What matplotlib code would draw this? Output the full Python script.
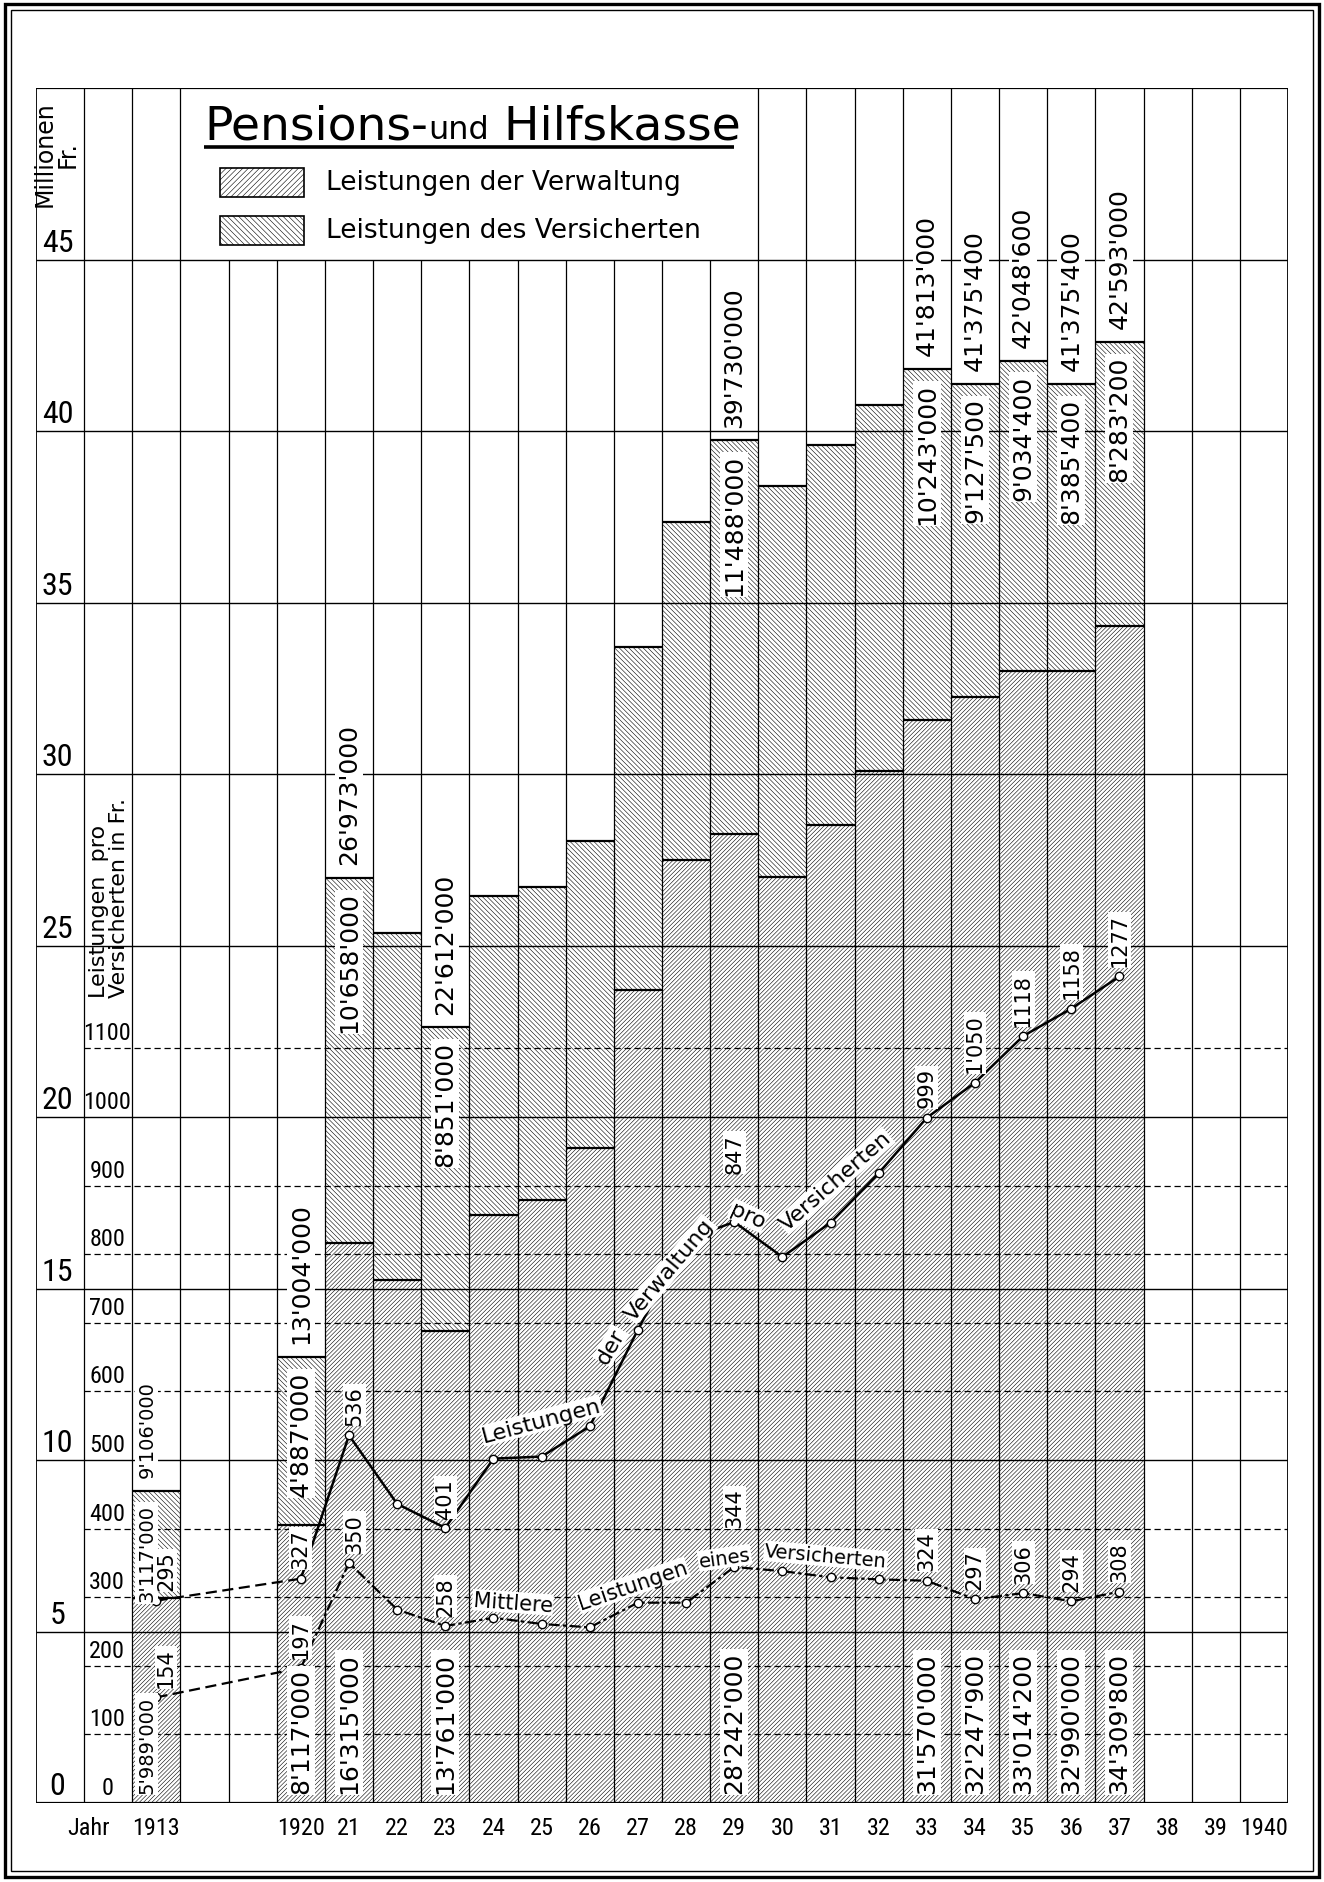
import numpy as np
import matplotlib
matplotlib.use("Agg")
import matplotlib.pyplot as plt
from matplotlib import font_manager
from matplotlib.patches import Rectangle

# Leistungen in Mio. Fr. (unten: Verwaltung, oben: Versicherte)
jahre = [1913, 1920, 1921, 1922, 1923, 1924, 1925, 1926, 1927, 1928,
         1929, 1930, 1931, 1932, 1933, 1934, 1935, 1936, 1937]
verwaltung = [5.989, 8.117, 16.315, 15.24, 13.761, 17.13, 17.58, 19.10, 23.70, 27.50,
              28.242, 27.00, 28.50, 30.10, 31.570, 32.2479, 33.0142, 32.990, 34.3098]
versicherte = [3.117, 4.887, 10.658, 10.11, 8.851, 9.32, 9.12, 8.95, 10.00, 9.85,
               11.488, 11.40, 11.10, 10.65, 10.243, 9.1275, 9.0344, 8.3854, 8.2832]
beschriftet = [1913, 1920, 1921, 1923, 1929, 1933, 1934, 1935, 1936, 1937]

# Leistungen pro Versicherten in Fr.
pro_verwaltung = [295, 327, 536, 436, 401, 502, 505, 549, 690, 821,
                  847, 796, 846, 918, 999, 1050, 1118, 1158, 1205]
pro_verwaltung_text = ["295", "327", "536", "", "401", "", "", "", "", "",
                       "847", "", "", "", "999", "1'050", "1118", "1158", "1277"]
mittlere = [154, 197, 350, 282, 258, 270, 261, 256, 292, 292,
            344, 338, 329, 326, 324, 297, 306, 294, 308]
mittlere_text = ["154", "197", "350", "", "258", "", "", "", "", "",
                 "344", "", "", "", "324", "297", "306", "294", "308"]

achse_mio = [0, 5, 10, 15, 20, 25, 30, 35, 40, 45]
achse_fr = [0, 100, 200, 300, 400, 500, 600, 700, 800, 900, 1000, 1100]
jahr_text = ["1913", "", "", "1920", "21", "22", "23", "24", "25", "26", "27", "28", "29",
             "30", "31", "32", "33", "34", "35", "36", "37", "38", "39", "1940"]


def fr(v):
    return "{:,}".format(int(round(v * 1e4)) * 100).replace(",", "'")


def finde_schmal():
    fonts = font_manager.fontManager.ttflist
    namen = {f.name for f in fonts}
    for n in ("Liberation Sans Narrow", "Roboto Condensed", "Open Sans Condensed",
              "Noto Sans Condensed", "DejaVu Sans Condensed"):
        if n in namen:
            return dict(family=n)
    for fam in ("Noto Sans", "Roboto", "DejaVu Sans", "Open Sans"):
        for st in ("condensed", "semi-condensed", "extra-condensed"):
            if any(f.name == fam and str(f.stretch) == st for f in fonts):
                return dict(family=fam, stretch=st)
    return dict(family="DejaVu Sans")


plt.rcParams["hatch.linewidth"] = 0.4
plt.rcParams["hatch.color"] = "black"

W, H = 1324, 1883
fig = plt.figure(figsize=(W / 100, H / 100), dpi=100)
renderer = fig.canvas.get_renderer()

# schmale Schrift fuer die Achsenzahlen, Groesse nach Breite waehlen
schmal = finde_schmal()
probe = fig.text(0, 0, "1100", fontsize=10, **schmal)
b1100 = probe.get_window_extent(renderer).width
probe.remove()
gr2 = min(20, 10 * 47 / b1100)
gr1 = min(23, 10 * 64 / b1100)

ax = fig.add_axes([36 / W, 79 / H, 1252 / W, 1715 / H])
ax.set_xlim(0, 26)
ax.set_ylim(0, 50)
ax.axis("off")
ax2 = ax.twinx()
ax2.set_ylim(0, 2500)
ax2.axis("off")

x = np.array([2 if j == 1913 else 5 + j - 1920 for j in jahre]) + 0.5
total = np.add(verwaltung, versicherte)

# Saeulen
ax.bar(x, verwaltung, width=1.0, color="white", edgecolor="black", linewidth=0,
       hatch="/" * 8, zorder=1)
ax.bar(x, versicherte, bottom=verwaltung, width=1.0, color="white", edgecolor="black",
       linewidth=0, hatch="\\" * 7, zorder=1)
ax.hlines(total, x - 0.5, x + 0.5, colors="black", lw=1.6, zorder=3)
ax.hlines(verwaltung, x - 0.5, x + 0.5, colors="black", lw=1.6, zorder=3)

# Raster
ax.vlines(np.arange(1, 26), 0, 45, colors="black", lw=0.9, zorder=2)
ax.vlines([0, 26], 0, 50, colors="black", lw=1.3, zorder=2)
ax.vlines([1, 2, 3] + list(range(15, 26)), 45, 50, colors="black", lw=0.9, zorder=2)
ax.hlines(np.arange(5, 46, 5), 0, 26, colors="black", lw=1.0, zorder=2)
ax.hlines([0, 50], 0, 26, colors="black", lw=1.6, zorder=2)
gestrichelt = [v for v in achse_fr if v % 500 != 0]
ax2.hlines(gestrichelt, 1, 26, colors="black", lw=0.9, linestyles=(0, (5, 3)), zorder=1)

# Achsenbeschriftung
for m in achse_mio:
    ax.text(0.45, m + 0.25, str(m), ha="center", va="baseline", fontsize=gr1, **schmal)
for v in achse_fr:
    ax2.text(1.48, v + 13, str(v), ha="center", va="baseline", fontsize=gr2, zorder=6, **schmal)
for i, t in enumerate(jahr_text):
    if t:
        ax.text(i + 2.5, -0.7, t, ha="center", va="center", fontsize=gr2, **schmal)
ax.text(1.1, -0.7, "Jahr", ha="center", va="center", fontsize=gr2, **schmal)
ax.text(0.42, 48.1, "Millionen\nFr.", rotation=90, ha="center", va="center",
        fontsize=17, linespacing=0.95)
ax.text(1.52, 26.4, "Leistungen  pro\nVersicherten in Fr.", rotation=90, ha="center",
        va="center", multialignment="left", fontsize=16, linespacing=1.0)

# Titel und Legende
xt = 3.49
for teil, gr in [("Pensions-", 34), ("und", 23), (" Hilfskasse", 34)]:
    t = ax.text(xt, 48.53, teil, fontsize=gr, ha="left", va="baseline")
    bb = t.get_window_extent(renderer)
    xt = ax.transData.inverted().transform((bb.x1, bb.y0))[0]
ax.plot([3.49, 14.5], [48.27, 48.27], color="black", lw=2.6, solid_capstyle="butt")
ax.add_patch(Rectangle((3.82, 46.81), 1.75, 0.87, facecolor="white", edgecolor="black",
                       lw=1.2, hatch="/" * 6))
ax.add_patch(Rectangle((3.82, 45.41), 1.75, 0.87, facecolor="white", edgecolor="black",
                       lw=1.2, hatch="\\" * 6))
ax.text(6.02, 47.25, "Leistungen der Verwaltung", fontsize=19, va="center")
ax.text(6.02, 45.85, "Leistungen des Versicherten", fontsize=19, va="center")

# Werte an den Saeulen
box = dict(facecolor="white", edgecolor="none", pad=1.5)
for i, j in enumerate(jahre):
    if j not in beschriftet:
        continue
    gr = 14 if j == 1913 else 18
    xl = x[i] - 0.2 if j == 1913 else x[i]
    kw = dict(rotation=90, ha="center", fontsize=gr, bbox=box, zorder=6, transform=ax.transData)
    ax2.text(xl, total[i] + 0.4, fr(total[i]), va="bottom", **kw)
    ax2.text(xl, total[i] - 0.4, fr(versicherte[i]), va="top", **kw)
    ax2.text(xl, 0.3, fr(verwaltung[i]), va="bottom", **kw)

# Linien pro Versicherten
ax2.plot(x[:2], pro_verwaltung[:2], color="black", lw=1.6, ls=(0, (5, 2.5)), zorder=4)
ax2.plot(x[1:], pro_verwaltung[1:], color="black", lw=1.8, zorder=4)
ax2.plot(x[:2], mittlere[:2], color="black", lw=1.6, ls=(0, (5, 2.5)), zorder=4)
ax2.plot(x[1:], mittlere[1:], color="black", lw=1.6, ls=(0, (5, 1.5, 1.5, 1.5)), zorder=4)
for reihe in (pro_verwaltung, mittlere):
    ax2.plot(x, reihe, ls="none", marker="o", ms=6, mfc="white", mec="black", mew=1.0, zorder=5)

extra = {"847": 72, "344": 58}
for reihe, texte in ((pro_verwaltung, pro_verwaltung_text), (mittlere, mittlere_text)):
    for i, t in enumerate(texte):
        if not t:
            continue
        xl = x[i] + (0.2 if jahre[i] == 1913 else 0.12 if jahre[i] == 1921 else 0)
        ax2.text(xl, reihe[i] + extra.get(t, 15), t, rotation=90, ha="center", va="bottom",
                 fontsize=15, bbox=dict(facecolor="white", edgecolor="none", pad=1), zorder=6)

# Kurvenbeschriftung
kbox = dict(facecolor="white", edgecolor="none", pad=0.5)
for t, xx, yy, rot, gr in [("Leistungen", 10.5, 11.15, 15, 16), ("der", 11.94, 13.33, 60, 16),
                           ("Verwaltung", 13.15, 15.56, 50, 16), ("pro", 14.78, 17.12, -25, 16),
                           ("Versicherten", 16.6, 18.14, 41, 16), ("Mittlere", 9.9, 5.85, -4, 15),
                           ("Leistungen", 12.39, 6.35, 19, 15), ("eines", 14.3, 7.15, 8, 14),
                           ("Versicherten", 16.4, 7.2, -5, 14)]:
    ax2.text(xx, yy, t, rotation=rot, ha="center", va="center", fontsize=gr, bbox=kbox,
             zorder=6, transform=ax.transData)

# Rahmen
for ein, lw in [(5, 2.4), (11, 1.0)]:
    fig.add_artist(Rectangle((ein / W, ein / H), 1 - 2 * ein / W, 1 - 2 * ein / H,
                             transform=fig.transFigure, fill=False, lw=lw, ec="black"))

fig.savefig("out.png", dpi=100)
